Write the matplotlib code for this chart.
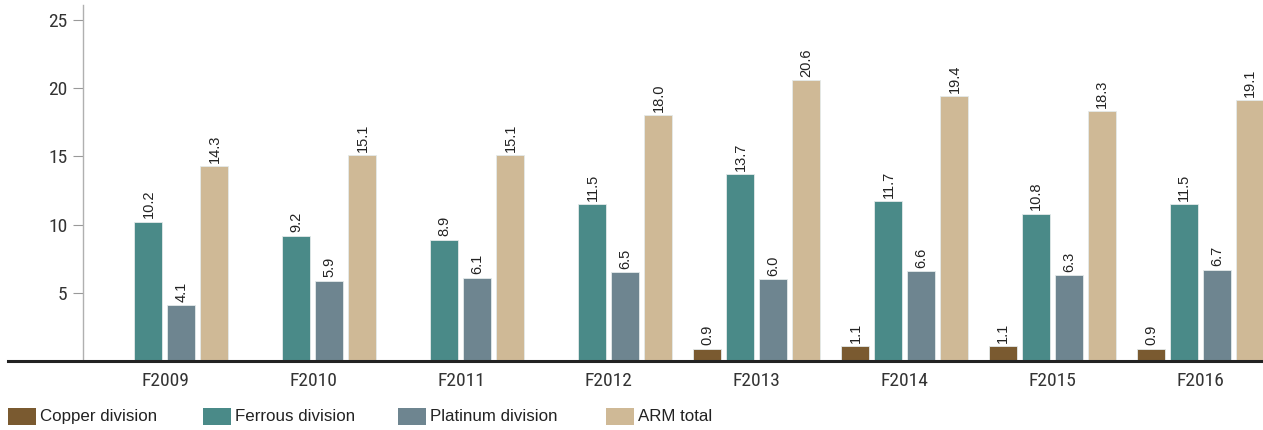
import matplotlib
matplotlib.use("Agg")
import matplotlib.pyplot as plt
from matplotlib import font_manager
from matplotlib.patches import Rectangle
import numpy as np

years = ["F2009", "F2010", "F2011", "F2012", "F2013", "F2014", "F2015", "F2016"]
copper = [None, None, None, None, 0.9, 1.1, 1.1, 0.9]
ferrous = [10.2, 9.2, 8.9, 11.5, 13.7, 11.7, 10.8, 11.5]
platinum = [4.1, 5.9, 6.1, 6.5, 6.0, 6.6, 6.3, 6.7]
arm_total = [14.3, 15.1, 15.1, 18.0, 20.6, 19.4, 18.3, 19.1]

series_names = ["Copper division", "Ferrous division", "Platinum division", "ARM total"]
colors = ["#7a5a30", "#4a8a88", "#6e8590", "#cfb996"]


def pick(names):
    for n in names:
        try:
            font_manager.findfont(font_manager.FontProperties(family=n), fallback_to_default=False)
            return n
        except Exception:
            pass
    return "DejaVu Sans"


narrow = pick(["Liberation Sans Narrow", "Arial Narrow", "Roboto Condensed", "Liberation Sans", "Roboto"])
regular = pick(["Liberation Sans", "Arial", "Roboto", "Lato"])

fig = plt.figure(figsize=(12.63, 4.3), dpi=100)
ax = fig.add_axes([83 / 1263, 69 / 430, 1 - 83 / 1263, (361 - 5) / 430])

x = np.arange(len(years))
step = 33 / 148
width = 28 / 148
all_series = [copper, ferrous, platinum, arm_total]
for i, (vals, col) in enumerate(zip(all_series, colors)):
    off = (i - 1.5) * step
    for xi, v in zip(x, vals):
        if v is None:
            continue
        ax.bar(xi + off, v, width, color=col, edgecolor="#e4eaea", linewidth=0.6, zorder=2)
        ax.text(xi + off, v + 0.25, f"{v:.1f}", rotation=90, ha="center", va="bottom",
                fontsize=10.5, color="#222222", family=regular)

ax.set_xlim(-0.554, 7.42)
ax.set_ylim(0, 26.1)
ax.set_yticks([5, 10, 15, 20, 25])
ax.set_xticks(x)
ax.set_xticklabels(years, family=narrow, fontsize=14, color="#333333")
for lab in ax.get_yticklabels():
    lab.set_family(narrow)
    lab.set_fontsize(14)
    lab.set_color("#333333")
ax.tick_params(axis="x", length=0, pad=8)
ax.tick_params(axis="y", length=7, width=0.8, color="#999999", pad=4)

for s in ["top", "right", "bottom"]:
    ax.spines[s].set_visible(False)
ax.spines["left"].set_color("#b0b0b0")
ax.spines["left"].set_linewidth(1.0)

ax.axhline(0, xmin=-(83 - 8) / (1263 - 83), xmax=1, color="#222222", linewidth=2.2,
           clip_on=False, zorder=3)

# legend drawn by hand to keep fixed spacing
leg_x = [8, 203, 398, 606]
for lx, name, col in zip(leg_x, series_names, colors):
    fig.add_artist(Rectangle((lx / 1263, (430 - 425) / 430), 28 / 1263, 17 / 430,
                             transform=fig.transFigure, facecolor=col, edgecolor="none"))
    fig.text((lx + 32) / 1263, (430 - 416.5) / 430, name, va="center", ha="left",
             fontsize=12.2, color="#222222", family=regular)

fig.savefig("out.png", dpi=100)
